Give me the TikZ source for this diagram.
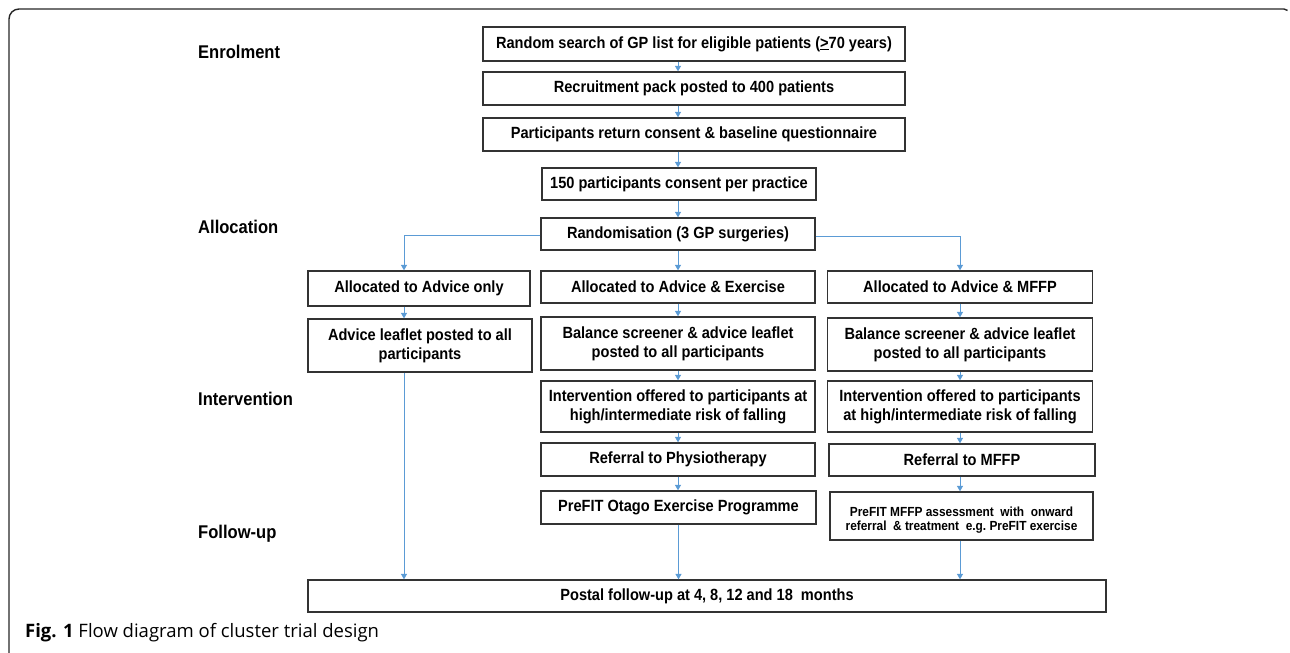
\documentclass[tikz,border=0pt]{standalone}
\usepackage{fontspec}
\usetikzlibrary{arrows.meta}
\newfontfamily\boxfont[FakeStretch=0.9]{Liberation Sans Bold}
\newfontfamily\capfont{Open Sans}
\definecolor{boxgray}{HTML}{333333}
\definecolor{arrblue}{HTML}{5B9BD5}
\begin{document}
\begin{tikzpicture}[x=1pt,y=-1pt,
  box/.style={draw=boxgray,line width=1.3pt,fill=white,inner sep=0pt,align=center,
    font=\boxfont\fontsize{16.2}{19}\selectfont},
  small/.style={font=\boxfont\fontsize{13.2}{14.2}\selectfont},
  stage/.style={anchor=west,inner sep=0pt,font=\boxfont\fontsize{18.4}{20}\selectfont},
  arr/.style={draw=arrblue,line width=1pt,-{Triangle[width=6pt,length=5.5pt]}},
  frame/.style={draw=black!85,line width=1.4pt}]
\useasboundingbox (0,0) rectangle (1290,653);
% frame
\draw[frame] (9,660) -- (9,19) arc[start angle=180,end angle=270,radius=10] -- (1284,9)
  arc[start angle=-90,end angle=-45,radius=5];
% stage labels
\node[stage] (enr) at (198,52) {Enrolment};
\node[stage] (alloc) at (198,227) {Allocation};
\node[stage] (interv) at (198,399) {Intervention};
\node[stage] (follow) at (198,534) {Follow-up};
% main column
\node[box,minimum width=422pt,minimum height=34pt] (b1) at (694,44) {Random search of GP list for eligible patients (\underline{>}70 years)};
\node[box,minimum width=422pt,minimum height=33pt] (b2) at (694,88.5) {Recruitment pack posted to 400 patients};
\node[box,minimum width=422pt,minimum height=33pt] (b3) at (694,134.5) {Participants return consent \& baseline questionnaire};
\node[box,minimum width=274pt,minimum height=32pt] (b4) at (679,184) {150 participants consent per practice};
\node[box,minimum width=274pt,minimum height=32pt] (rand) at (678,234) {Randomisation (3 GP surgeries)};
% advice column
\coordinate (lc) at (404,0);
\node[box,minimum width=222pt,minimum height=35pt] (a1) at (419,288.5) {Allocated to Advice only};
\node[box,minimum width=224pt,minimum height=53pt] (a2) at (420,345.5) {Advice leaflet posted to all\\participants};
% exercise column
\node[box,minimum width=274pt,minimum height=32pt] (e1) at (678,287) {Allocated to Advice \& Exercise};
\node[box,minimum width=274pt,minimum height=53pt] (e2) at (678,343.5) {Balance screener \& advice leaflet\\posted to all participants};
\node[box,minimum width=274pt,minimum height=51pt] (e3) at (678,406.5) {Intervention offered to participants at\\high/intermediate risk of falling};
\node[box,minimum width=274pt,minimum height=33pt] (e4) at (678,459.5) {Referral to Physiotherapy};
\node[box,minimum width=275pt,minimum height=33pt] (e5) at (678.5,507.5) {PreFIT Otago Exercise Programme};
% MFFP column
\node[box,minimum width=265pt,minimum height=32pt] (m1) at (960,287) {Allocated to Advice \& MFFP};
\node[box,minimum width=265pt,minimum height=53pt] (m2) at (960,344.5) {Balance screener \& advice leaflet\\posted to all participants};
\node[box,minimum width=265pt,minimum height=51pt] (m3) at (960,406.5) {Intervention offered to participants\\at high/intermediate risk of falling};
\node[box,minimum width=266pt,minimum height=32pt] (m4) at (962,460) {Referral to MFFP};
\node[box,small,minimum width=263pt,minimum height=48pt] (m5) at (961.5,516) {\rule{0pt}{17pt}PreFIT MFFP assessment\ \ with\ \ onward\\referral\ \ \&\ treatment\ \ e.g.\ PreFIT exercise};
% follow-up
\node[box,minimum width=798pt,minimum height=32pt] (fu) at (707,596) {Postal follow-up at 4, 8, 12 and 18\ \ months};
% caption
\node[anchor=base west,inner sep=0pt,font=\capfont\fontsize{18.5}{20}\selectfont] (cap) at (25,637) {\textbf{Fig. 1} Flow diagram of cluster trial design};
% arrows main
\draw[arr] (b1.south -| rand.center) -- (b2.north -| rand.center);
\draw[arr] (b2.south -| rand.center) -- (b3.north -| rand.center);
\draw[arr] (b3.south -| rand.center) -- (b4.north -| rand.center);
\draw[arr] (b4.south -| rand.center) -- (rand.north);
\draw[arr] ([yshift=-1pt]rand.west) -| (a1.north -| lc);
\draw[arr] (rand.south) -- (e1.north);
\draw[arr] ([yshift=-2pt]rand.east) -| (m1.north);
% advice
\draw[arr] (a1.south -| lc) -- (a2.north -| lc);
\draw[arr] (a2.south -| lc) -- (fu.north -| lc);
% exercise
\draw[arr] (e1.south) -- (e2.north);
\draw[arr] (e2.south) -- (e3.north);
\draw[arr] (e3.south) -- (e4.north);
\draw[arr] (e4.south) -- (e5.north -| e4.south);
\draw[arr] (e5.south) -- (fu.north -| e5.south);
% MFFP
\draw[arr] (m1.south) -- (m2.north);
\draw[arr] (m2.south) -- (m3.north);
\draw[arr] (m3.south -| m1.south) -- (m4.north -| m1.south);
\draw[arr] (m4.south -| m1.south) -- (m5.north -| m1.south);
\draw[arr] (m5.south -| m1.south) -- (fu.north -| m1.south);
\end{tikzpicture}
\end{document}
